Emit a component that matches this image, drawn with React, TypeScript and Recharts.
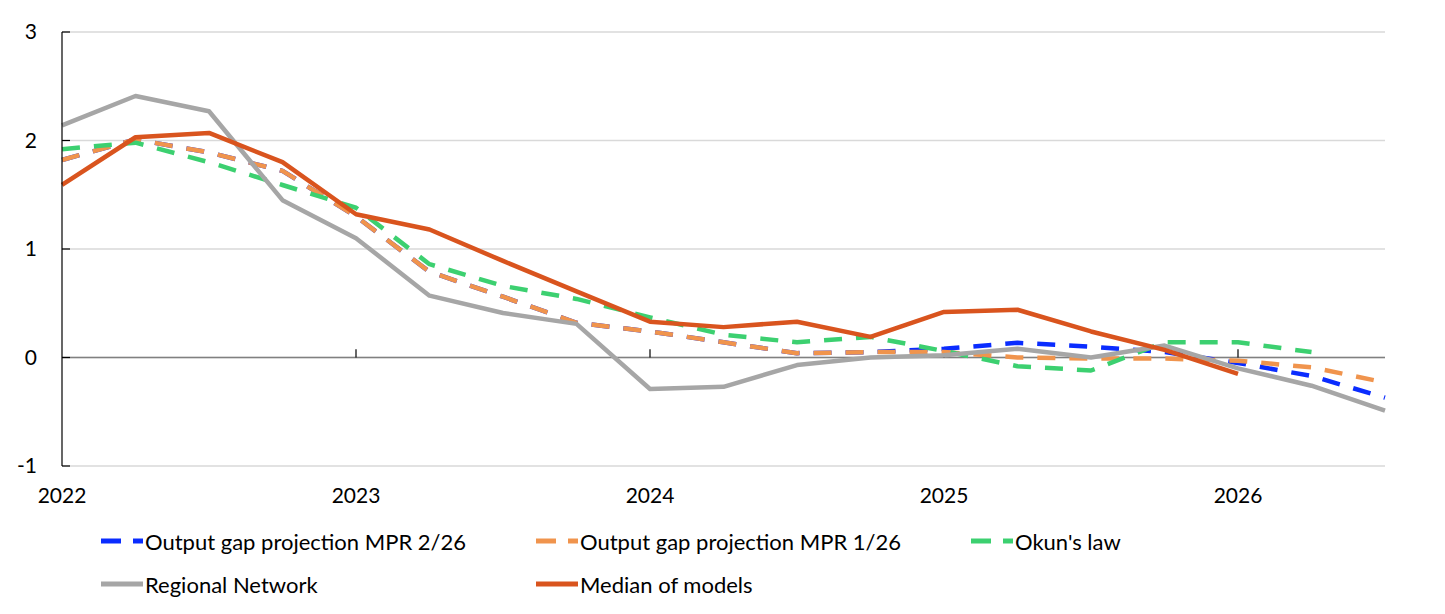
import React from 'react';
import { CartesianGrid, Line, LineChart, ReferenceLine, XAxis, YAxis } from 'recharts';

// quarterly observations, 2022Q1 .. 2026Q3
const quarters = [
  '2022Q1', '2022Q2', '2022Q3', '2022Q4',
  '2023Q1', '2023Q2', '2023Q3', '2023Q4',
  '2024Q1', '2024Q2', '2024Q3', '2024Q4',
  '2025Q1', '2025Q2', '2025Q3', '2025Q4',
  '2026Q1', '2026Q2', '2026Q3',
];
const yearTicks = [0, 4, 8, 12, 16];
const yearLabels = ['2022', '2023', '2024', '2025', '2026'];
const yTicks = [-1, 0, 1, 2, 3];

const mpr226 = [1.82, 2.01, 1.89, 1.72, 1.3, 0.79, 0.56, 0.32, 0.24, 0.14, 0.04, 0.05, 0.08, 0.135, 0.1, 0.05, -0.05, -0.17, -0.37];
const mpr126 = [1.82, 2.01, 1.89, 1.72, 1.3, 0.79, 0.56, 0.32, 0.24, 0.14, 0.04, 0.05, 0.05, 0.0, -0.01, -0.01, -0.03, -0.09, -0.23];
const okun = [1.92, 1.98, 1.8, 1.59, 1.38, 0.86, 0.66, 0.54, 0.37, 0.21, 0.14, 0.19, 0.06, -0.08, -0.12, 0.14, 0.14, 0.05, null];
const regional = [2.14, 2.41, 2.27, 1.45, 1.1, 0.57, 0.41, 0.31, -0.29, -0.27, -0.07, 0.0, 0.02, 0.08, 0.0, 0.11, -0.1, -0.26, -0.49];
const median = [1.59, 2.03, 2.07, 1.8, 1.32, 1.18, 0.89, 0.61, 0.33, 0.28, 0.33, 0.19, 0.42, 0.44, 0.24, 0.07, -0.15, null, null];

const series = [
  { key: 'mpr226', name: 'Output gap projection MPR 2/26', color: '#0a2cff', dashed: true },
  { key: 'mpr126', name: 'Output gap projection MPR 1/26', color: '#f0944d', dashed: true },
  { key: 'okun', name: "Okun's law", color: '#3cd070', dashed: true },
  { key: 'regional', name: 'Regional Network', color: '#a6a6a6', dashed: false },
  { key: 'median', name: 'Median of models', color: '#d9541e', dashed: false },
];

const data = quarters.map((q, i) => ({
  i,
  q,
  mpr226: mpr226[i],
  mpr126: mpr126[i],
  okun: okun[i],
  regional: regional[i],
  median: median[i],
}));

const FONT = 'Lato, "Open Sans", sans-serif';
const TICK_GAP = 25;

function YTick(props: any) {
  const { x, y, payload } = props;
  const axisX = x + TICK_GAP;
  return (
    <g>
      <line x1={axisX} x2={axisX + 8} y1={y} y2={y} stroke="#000" strokeWidth={1.2} />
      <text x={x} y={y} dy={7} textAnchor="end" fontSize={21} fill="#000" fontFamily={FONT}>
        {payload.value}
      </text>
    </g>
  );
}

function LegendIcon({ color, dashed }: { color: string; dashed: boolean }) {
  return (
    <svg width={44} height={10} style={{ marginRight: 1 }}>
      {dashed ? (
        <>
          <line x1={1} x2={21} y1={5} y2={5} stroke={color} strokeWidth={5} />
          <line x1={33} x2={43} y1={5} y2={5} stroke={color} strokeWidth={5} />
        </>
      ) : (
        <line x1={1} x2={43} y1={5} y2={5} stroke={color} strokeWidth={5} />
      )}
    </svg>
  );
}

export default function App() {
  return (
    <div style={{ position: 'absolute', left: 0, top: 0, width: 1445, height: 614, background: '#fff', fontFamily: FONT }}>
      <LineChart width={1445} height={614} data={data} margin={{ top: 32, right: 60, left: 0, bottom: 108 }}>
        <CartesianGrid vertical={false} stroke="#d9d9d9" strokeWidth={1.3} />
        <XAxis
          dataKey="i"
          type="number"
          domain={[0, 18]}
          ticks={yearTicks}
          tickFormatter={(v: number) => yearLabels[yearTicks.indexOf(v)]}
          axisLine={false}
          tickLine={false}
          height={40}
          tickMargin={16}
          tick={{ fontSize: 21, fill: '#000', fontFamily: FONT }}
        />
        <YAxis
          type="number"
          domain={[-1, 3]}
          ticks={yTicks}
          width={62}
          axisLine={{ stroke: '#000', strokeWidth: 1.2 }}
          tickLine={false}
          tickSize={0}
          tickMargin={TICK_GAP}
          tick={<YTick />}
        />
        <ReferenceLine y={0} stroke="#808080" strokeWidth={1.5} />
        {yearTicks.slice(1).map((t) => (
          <ReferenceLine
            key={t}
            segment={[{ x: t, y: 0 }, { x: t, y: 0.075 }]}
            stroke="#000"
            strokeWidth={1.2}
          />
        ))}
        {series.map((s) => (
          <Line
            key={s.key}
            dataKey={s.key}
            name={s.name}
            stroke={s.color}
            strokeWidth={4.5}
            strokeDasharray={s.dashed ? '18 14' : undefined}
            dot={false}
            activeDot={false}
            isAnimationActive={false}
            strokeLinejoin="round"
          />
        ))}
      </LineChart>
      <div
        style={{
          position: 'absolute',
          left: 100,
          top: 526,
          display: 'grid',
          gridTemplateColumns: '435px 435px 435px',
          rowGap: 13,
          fontSize: 22,
          color: '#000',
        }}
      >
        {series.map((s) => (
          <div key={s.key} style={{ display: 'flex', alignItems: 'center', height: 30 }}>
            <LegendIcon color={s.color} dashed={s.dashed} />
            <span>{s.name}</span>
          </div>
        ))}
      </div>
    </div>
  );
}
